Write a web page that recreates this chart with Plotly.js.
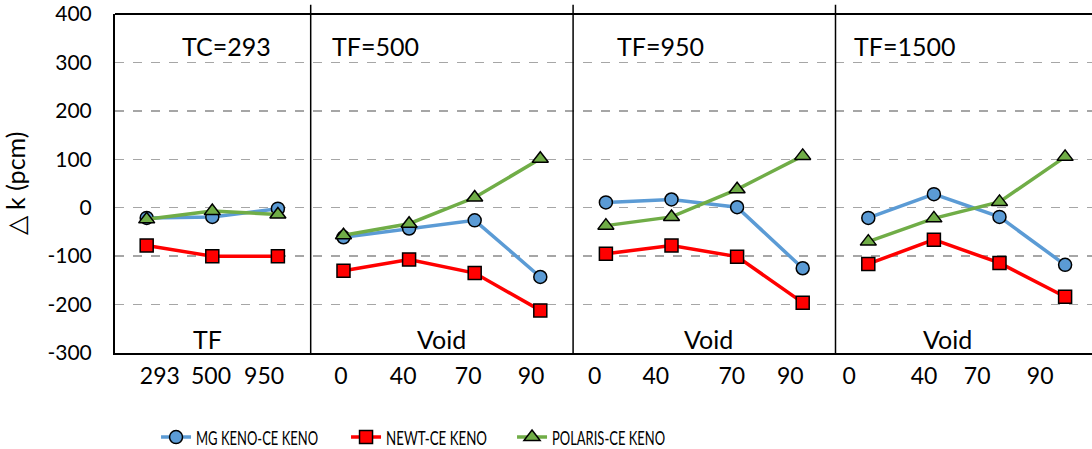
<!DOCTYPE html>
<html>
<head>
<meta charset="utf-8">
<script src="https://cdn.plot.ly/plotly-3.0.1.min.js"></script>
<style>html,body{margin:0;padding:0;background:#fff;}#chart{width:1092px;height:449px;}</style>
</head>
<body>
<div id="chart"></div>
<script>
// ---- data ----
const panelTitles = ['TC=293', 'TF=500', 'TF=950', 'TF=1500'];
const panelAxisNames = ['TF', 'Void', 'Void', 'Void'];
const tfLabels = ['293', '500', '950'];
const voidLabels = ['0', '40', '70', '90'];
const panelLabels = [tfLabels, voidLabels, voidLabels, voidLabels];

const seriesNames = ['MG KENO-CE KENO', 'NEWT-CE KENO', 'POLARIS-CE KENO'];
const mgValues      = [[-21, -19, -2], [-61, -43, -26, -143], [11, 17, 1, -125], [-21, 28, -19, -118]];
const newtValues    = [[-78, -100, -100], [-130, -107, -135, -212], [-95, -78, -101, -196], [-116, -66, -114, -184]];
const polarisValues = [[-24, -7, -14], [-57, -33, 21, 101], [-37, -19, 38, 107], [-70, -22, 12, 105]];

const yTickValues = [-300, -200, -100, 0, 100, 200, 300, 400];

// ---- layout helpers ----
function buildXY(values) {
  const xs = [], ys = [];
  let idx = 0;
  values.forEach((panel, p) => {
    panel.forEach(v => { xs.push(idx); ys.push(v); idx++; });
    if (p < values.length - 1) { xs.push(idx - 0.5); ys.push(null); }
  });
  return {x: xs, y: ys};
}

const colors = ['#5B9BD5', '#FF0000', '#70AD47'];
const symbols = ['circle', 'square', 'triangle-up'];
const legendWidths = [145, 121, 120];
const allValues = [mgValues, newtValues, polarisValues];

const traces = allValues.map((vals, i) => {
  const d = buildXY(vals);
  return {
    type: 'scatter', mode: 'lines+markers',
    name: seriesNames[i], x: d.x, y: d.y, connectgaps: false,
    legendwidth: legendWidths[i],
    line: {color: colors[i], width: 3.5},
    marker: {symbol: symbols[i], size: symbols[i] === 'triangle-up' ? 14 : 13, color: colors[i], line: {color: '#000', width: 1.5}}
  };
});

const starts = [];
let acc = 0;
panelLabels.forEach(l => { starts.push(acc); acc += l.length; });

// tick label offsets within each slot (Excel-like placement seen in reference)
const labelShift = [[0.20, -0.02, -0.21], [-0.04, -0.09, -0.10, -0.14], [-0.17, -0.24, -0.08, -0.19], [-0.29, -0.15, -0.34, -0.38]];
const tickvals = [], ticktext = [];
panelLabels.forEach((labs, p) => labs.forEach((t, j) => {
  tickvals.push(starts[p] + j + labelShift[p][j]);
  ticktext.push(t);
}));

const shapes = [];
for (let p = 1; p < panelLabels.length; p++) {
  shapes.push({type: 'line', xref: 'x', yref: 'paper', x0: starts[p] - 0.5, x1: starts[p] - 0.5, y0: 0, y1: 1.027,
    line: {color: '#000', width: 1.5}});
}
shapes.push({type: 'line', xref: 'paper', yref: 'paper', x0: 0, x1: 1, y0: 1, y1: 1, line: {color: '#000', width: 2}});

const titleLeft = [0.51, 2.79, 7.14, 10.75];
const annotations = [];
panelTitles.forEach((t, p) => {
  annotations.push({x: titleLeft[p], y: 333, xref: 'x', yref: 'y', text: t, showarrow: false,
    xanchor: 'left', yanchor: 'middle', font: {family: 'Lato, sans-serif', size: 25, color: '#000'}});
});
const subCenters = [0.92, 4.49, 8.56, 12.21];
panelAxisNames.forEach((t, p) => {
  annotations.push({x: subCenters[p], y: -272, xref: 'x', yref: 'y', text: t, showarrow: false,
    xanchor: 'center', yanchor: 'middle', font: {family: 'Lato, sans-serif', size: 25, color: '#000'}});
});

const layout = {
  width: 1092, height: 449,
  margin: {l: 115, r: 0, t: 14, b: 96, autoexpand: false},
  paper_bgcolor: '#fff', plot_bgcolor: '#fff',
  showlegend: true,
  legend: {orientation: 'h', x: 0.042, xanchor: 'left', y: -0.248, yanchor: 'middle',
    font: {family: 'Lato, sans-serif', size: 20, color: '#000'}, traceorder: 'normal'},
  xaxis: {range: [-0.483, 14.41], tickvals: tickvals, ticktext: ticktext, showgrid: false, zeroline: false,
    showline: true, linecolor: '#000', linewidth: 2, ticks: '', ticklabelstandoff: 1,
    tickfont: {family: 'Lato, sans-serif', size: 23, color: '#000'}},
  yaxis: {range: [-300, 400], tickvals: yTickValues, ticktext: yTickValues.map(v => String(v)),
    showgrid: true, gridcolor: '#A6A6A6', griddash: 'dash', gridwidth: 1.5,
    zeroline: false, showline: true, linecolor: '#000', linewidth: 2, ticks: '', ticklabelstandoff: 17,
    tickfont: {family: 'Lato, sans-serif', size: 21, color: '#000'},
    title: {text: '△ k (pcm)', standoff: 50, font: {family: 'Lato, sans-serif', size: 25, color: '#000'}}},
  shapes: shapes,
  annotations: annotations
};

// target legend text widths (reference legend text is condensed)
const legendTextWidths = [122, 101, 113];

Plotly.newPlot('chart', traces, layout, {displayModeBar: false, staticPlot: true}).then(gd => {
  const texts = gd.querySelectorAll('.legend .legendtext');
  texts.forEach((t, i) => {
    if (legendTextWidths[i]) {
      t.setAttribute('textLength', legendTextWidths[i]);
      t.setAttribute('lengthAdjust', 'spacingAndGlyphs');
    }
  });
});
</script>
</body>
</html>
